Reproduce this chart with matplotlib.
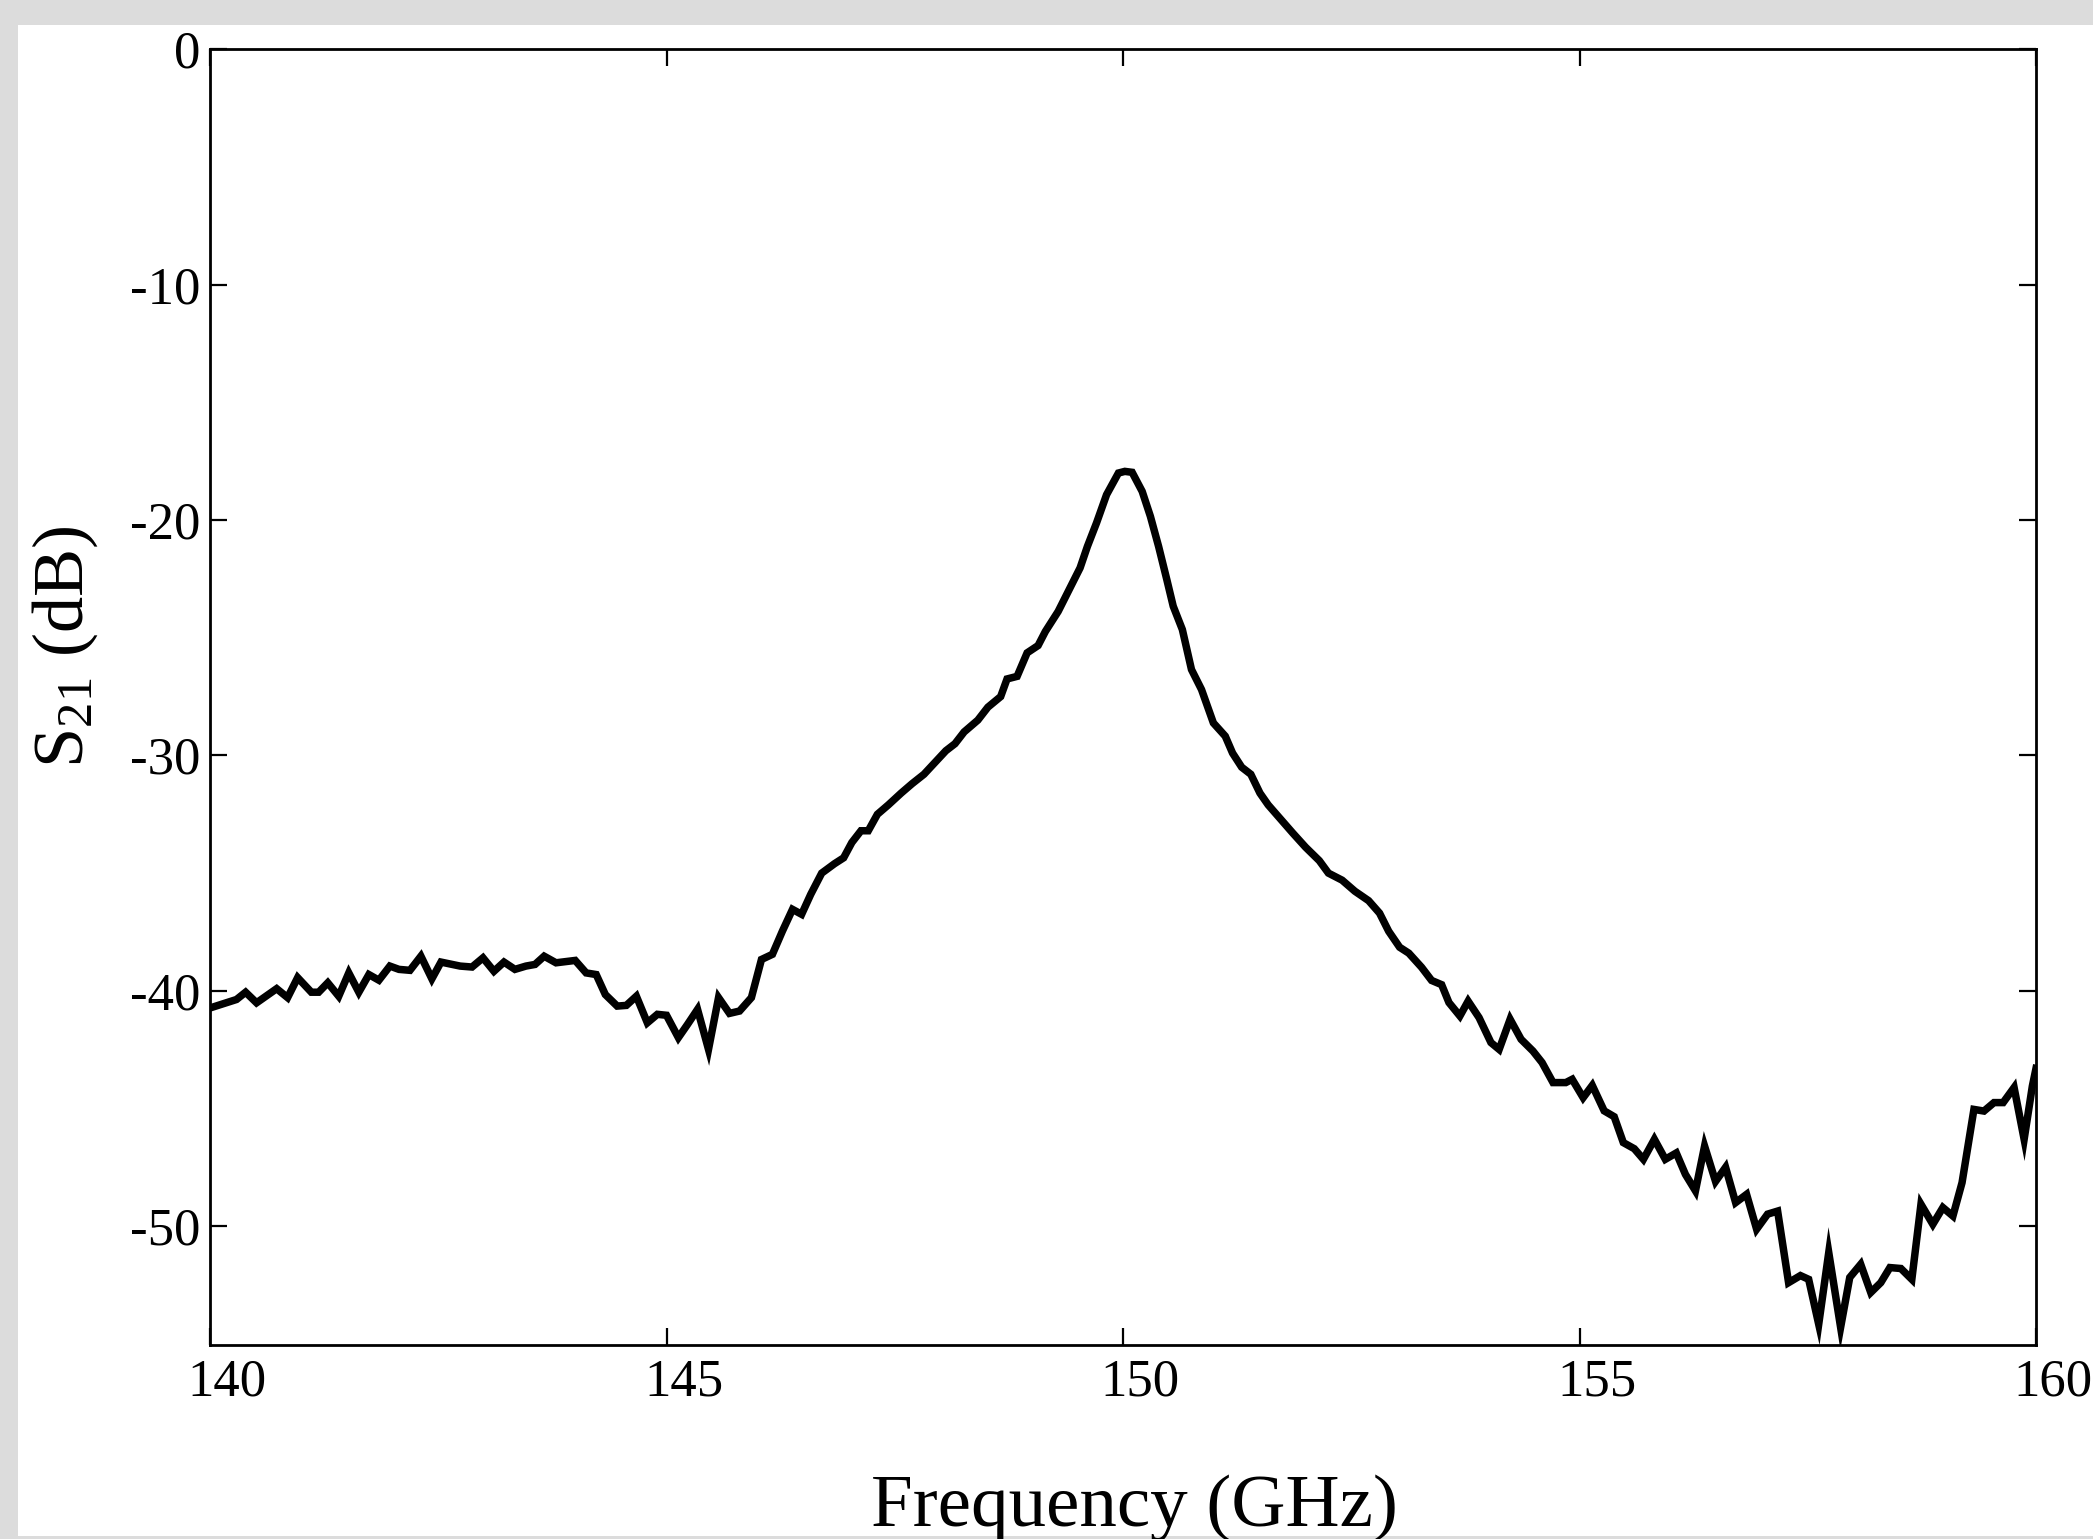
import matplotlib
matplotlib.use("Agg")
import matplotlib.pyplot as plt
from matplotlib.patches import Rectangle
from matplotlib.transforms import ScaledTranslation

plt.rcParams['font.family'] = ['Liberation Serif', 'DejaVu Serif']
plt.rcParams['mathtext.fontset'] = 'custom'
plt.rcParams['mathtext.rm'] = 'Liberation Serif'
plt.rcParams['mathtext.it'] = 'Liberation Serif:italic'

# ---- data ----
freq_ghz = [
    140.00, 140.29, 140.39, 140.51, 140.73, 140.85, 140.96, 141.11, 141.19, 141.29,
    141.41, 141.52, 141.63, 141.74, 141.85, 141.97, 142.07, 142.19, 142.31, 142.43,
    142.53, 142.74, 142.87, 142.99, 143.11, 143.22, 143.34, 143.46, 143.56, 143.66,
    143.79, 144.00, 144.12, 144.23, 144.33, 144.46, 144.56, 144.67, 144.79, 144.90,
    145.00, 145.13, 145.23, 145.34, 145.46, 145.57, 145.69, 145.80, 145.93, 146.04,
    146.16, 146.27, 146.38, 146.48, 146.58, 146.70, 146.84, 146.94, 147.03, 147.13,
    147.21, 147.31, 147.43, 147.57, 147.69, 147.82, 147.94, 148.06, 148.16, 148.26,
    148.41, 148.52, 148.66, 148.73, 148.84, 148.95, 149.07, 149.15, 149.29, 149.40,
    149.53, 149.61, 149.71, 149.82, 149.95, 150.02, 150.10, 150.21, 150.30, 150.39,
    150.48, 150.55, 150.65, 150.75, 150.86, 150.99, 151.12, 151.20, 151.30, 151.40,
    151.50, 151.59, 151.74, 151.86, 152.00, 152.15, 152.25, 152.40, 152.54, 152.69,
    152.81, 152.91, 153.03, 153.13, 153.27, 153.38, 153.49, 153.57, 153.69, 153.78,
    153.90, 154.03, 154.12, 154.24, 154.36, 154.49, 154.59, 154.71, 154.85, 154.92,
    155.04, 155.14, 155.27, 155.38, 155.48, 155.60, 155.70, 155.82, 155.94, 156.06,
    156.16, 156.27, 156.37, 156.49, 156.60, 156.71, 156.83, 156.94, 157.06, 157.17,
    157.29, 157.42, 157.51, 157.62, 157.73, 157.86, 157.96, 158.08, 158.19, 158.30,
    158.40, 158.52, 158.64, 158.74, 158.87, 158.98, 159.09, 159.19, 159.32, 159.43,
    159.54, 159.64, 159.76, 159.87, 159.96, 160.00,
]
s21_db = [
    -40.73, -40.37, -40.06, -40.51, -39.91, -40.29, -39.44, -40.06, -40.06, -39.66,
    -40.23, -39.24, -40.06, -39.31, -39.55, -38.95, -39.09, -39.13, -38.53, -39.49,
    -38.78, -38.95, -38.99, -38.60, -39.17, -38.78, -39.09, -38.95, -38.88, -38.53,
    -38.81, -38.71, -39.24, -39.31, -40.16, -40.65, -40.62, -40.23, -41.36, -41.00,
    -41.04, -41.99, -41.43, -40.79, -42.49, -40.29, -40.96, -40.86, -40.29, -38.67,
    -38.45, -37.46, -36.54, -36.75, -35.90, -35.00, -34.60, -34.35, -33.70, -33.20,
    -33.20, -32.50, -32.10, -31.60, -31.20, -30.80, -30.30, -29.80, -29.50, -29.00,
    -28.50, -27.95, -27.50, -26.75, -26.64, -25.64, -25.33, -24.73, -23.88, -23.03,
    -22.03, -21.12, -20.12, -18.92, -18.00, -17.93, -17.97, -18.78, -19.84, -21.12,
    -22.53, -23.66, -24.65, -26.35, -27.20, -28.62, -29.18, -29.90, -30.50, -30.80,
    -31.60, -32.10, -32.77, -33.30, -33.90, -34.47, -35.00, -35.30, -35.77, -36.17,
    -36.70, -37.47, -38.15, -38.40, -39.00, -39.56, -39.74, -40.50, -41.07, -40.44,
    -41.14, -42.20, -42.49, -41.21, -42.06, -42.56, -43.05, -43.90, -43.90, -43.76,
    -44.54, -44.02, -45.10, -45.35, -46.45, -46.71, -47.16, -46.31, -47.16, -46.89,
    -47.80, -48.50, -46.60, -48.10, -47.50, -49.00, -48.65, -50.13, -49.49, -49.36,
    -52.40, -52.10, -52.26, -54.17, -51.12, -54.30, -52.18, -51.62, -52.82, -52.40,
    -51.76, -51.80, -52.26, -49.07, -49.92, -49.21, -49.57, -48.15, -45.04, -45.11,
    -44.75, -44.75, -44.11, -46.31, -44.05, -43.30,
]
x_ticks = [140, 145, 150, 155, 160]
y_ticks = [0, -10, -20, -30, -40, -50]
x_label = "Frequency (GHz)"
y_label = r"S$_{\mathrm{21}}$ (dB)"

# ---- figure ----
W, H, DPI = 2093, 1539, 100
fig = plt.figure(figsize=(W / DPI, H / DPI), dpi=DPI, facecolor="#dcdcdc")
bg = Rectangle((18 / W, 1 - 1536 / H), 1 - 18 / W, (1536 - 25) / H,
               transform=fig.transFigure, facecolor="white",
               edgecolor="none", zorder=-10)
fig.patches.append(bg)

ax = fig.add_axes([210 / W, 1 - 1345 / H, (2036 - 210) / W, (1345 - 49.4) / H])
ax.set_zorder(1)
ax.set_facecolor("white")
ax.plot(freq_ghz, s21_db, color="black", linewidth=5.4, solid_joinstyle="miter")

ax.set_xlim(140, 160)
ax.set_ylim(-55.05, 0)
ax.set_xticks(x_ticks)
ax.set_yticks(y_ticks)
ax.set_xticklabels([str(v) for v in x_ticks])
ax.set_yticklabels([str(v) for v in y_ticks])

for s in ax.spines.values():
    s.set_linewidth(2.0)
ax.tick_params(axis="both", which="major", direction="in", length=12.5, width=1.6,
               top=True, right=True, labelsize=38, colors="black")
ax.tick_params(axis="x", pad=10)
ax.tick_params(axis="y", pad=7)

# x tick labels sit slightly right of their ticks in the reference
off = ScaledTranslation(17 / DPI, 0, fig.dpi_scale_trans)
for t in ax.xaxis.get_major_ticks():
    t.label1.set_transform(t.label1.get_transform() + off)

ax.set_xlabel(x_label, fontsize=54, va="baseline")
ax.xaxis.set_label_coords(0.506, -0.1397)
ax.set_ylabel(y_label, fontsize=52, va="center")
ax.yaxis.set_label_coords(-0.0794, 0.5387)

fig.savefig("out.png", dpi=DPI, facecolor=fig.get_facecolor())
